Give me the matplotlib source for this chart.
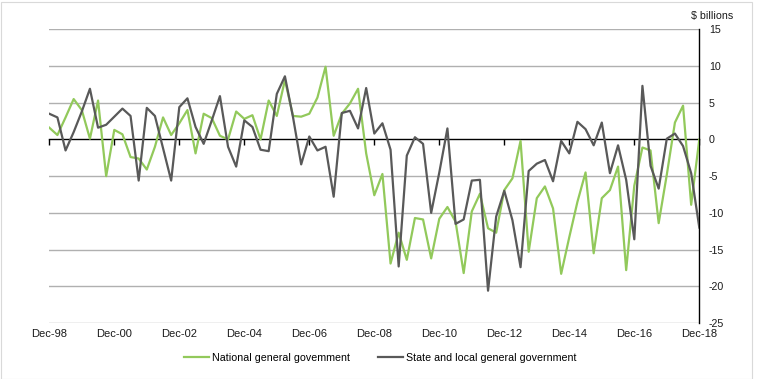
import matplotlib
matplotlib.use("Agg")
import matplotlib.pyplot as plt
import numpy as np

plt.rcParams['font.family'] = ['Liberation Sans', 'DejaVu Sans']

# Quarterly data, Dec-98 to Dec-18 ($ billions)
national = [1.6, 0.6, 3.0, 5.5, 4.0, 0.1, 5.3, -5.0, 1.3, 0.7,
            -2.4, -2.6, -4.1, -1.0, 3.0, 0.6, 2.2, 4.0, -1.9, 3.5,
            2.9, 0.5, 0.0, 3.8, 2.8, 3.3, 0.0, 5.3, 3.2, 8.1,
            3.2, 3.1, 3.5, 5.7, 9.9, 0.5, 3.5, 4.9, 6.9, -1.9,
            -7.6, -4.7, -16.9, -12.7, -16.4, -10.7, -10.9, -16.2, -10.8, -9.2,
            -11.2, -18.2, -9.8, -7.4, -12.1, -12.7, -6.9, -5.3, -0.2, -15.3,
            -8.0, -6.4, -9.4, -18.3, -13.3, -8.5, -4.5, -15.5, -8.0, -6.9,
            -3.7, -17.8, -6.3, -1.1, -1.5, -11.4, -4.8, 2.3, 4.6, -8.9,
            0.0]
state_local = [3.5, 3.0, -1.5, 1.0, 3.8, 6.9, 1.6, 2.0, 3.1, 4.2,
               3.2, -5.6, 4.3, 3.2, -1.2, -5.6, 4.4, 5.6, 1.7, -0.6,
               2.6, 5.9, -1.0, -3.7, 2.6, 1.7, -1.4, -1.6, 6.2, 8.6,
               3.0, -3.4, 0.4, -1.5, -1.0, -7.8, 3.6, 3.9, 1.5, 7.0,
               0.8, 2.2, -1.4, -17.3, -2.2, 0.3, -0.6, -10.0, -4.5, 1.5,
               -11.5, -10.9, -5.6, -5.5, -20.6, -10.5, -7.0, -11.0, -17.4, -4.3,
               -3.3, -2.8, -5.7, -0.2, -1.9, 2.4, 1.4, -0.8, 2.3, -4.6,
               -0.8, -5.5, -13.6, 7.3, -3.6, -6.7, 0.1, 0.8, -0.9, -4.6,
               -12.0]
tick_labels = ['Dec-98', 'Dec-00', 'Dec-02', 'Dec-04', 'Dec-06', 'Dec-08',
               'Dec-10', 'Dec-12', 'Dec-14', 'Dec-16', 'Dec-18']
y_ticks = [15, 10, 5, 0, -5, -10, -15, -20, -25]
series_names = ['National general govemment', 'State and local general government']

W, H = 757, 379
fig = plt.figure(figsize=(W / 100, H / 100), dpi=100)
ax = fig.add_axes([49.3 / W, 1 - 323 / H, (699.3 - 49.3) / W, (323 - 29.3) / H])

x = np.arange(len(national))
green = '#92c95b'
grey = '#595959'

for yv in y_ticks:
    if yv != 0:
        ax.axhline(yv, color='#b0b0b0', lw=1.0, zorder=1)

l1, = ax.plot(x, national, color=green, lw=1.6, zorder=3, label=series_names[0])
l2, = ax.plot(x, state_local, color=grey, lw=1.6, zorder=4, label=series_names[1])

ax.set_xlim(0, len(national) - 1)
ax.set_ylim(-25, 15)

# Y axis on the right
ax.yaxis.tick_right()
ax.set_yticks(y_ticks)
ax.set_yticklabels([str(v) for v in y_ticks])
ax.tick_params(axis='y', length=0, pad=7, labelsize=7.7, labelcolor='#1a1a1a')
for lab in ax.get_yticklabels():
    lab.set_horizontalalignment('left')

for s in ['top', 'left']:
    ax.spines[s].set_visible(False)
ax.spines['right'].set_color('black')
ax.spines['right'].set_linewidth(1.0)

# x axis line at zero with tick marks
xt = np.arange(0, len(national), 8)
ax.spines['bottom'].set_position(('data', 0))
ax.spines['bottom'].set_color('black')
ax.spines['bottom'].set_linewidth(1.0)
ax.spines['bottom'].set_zorder(2)
ax.set_xticks(xt)
ax.tick_params(axis='x', direction='out', length=4, width=1, color='black', labelbottom=False)

sec = ax.secondary_xaxis('bottom')
sec.set_xticks(xt)
sec.set_xticklabels(tick_labels)
sec.tick_params(length=0, pad=4, labelsize=8, labelcolor='#1a1a1a')
sec.spines['bottom'].set_visible(False)

fig.text(712 / W, 1 - 16 / H, '$ billions', fontsize=7.7, color='#1a1a1a', ha='center', va='center')

fig.legend(handles=[l1, l2], loc='center', bbox_to_anchor=(380 / W, 1 - 358 / H),
           ncol=2, frameon=False, fontsize=7.7, handlelength=2.4, handletextpad=0.25,
           columnspacing=2.6)

fig.patches.append(plt.Rectangle((0.5 / W, 0.5 / H), 1 - 6 / W, 1 - 2 / H, transform=fig.transFigure,
                                 fill=False, edgecolor='#d9d9d9', lw=0.8))

fig.savefig('out.png', dpi=100)
